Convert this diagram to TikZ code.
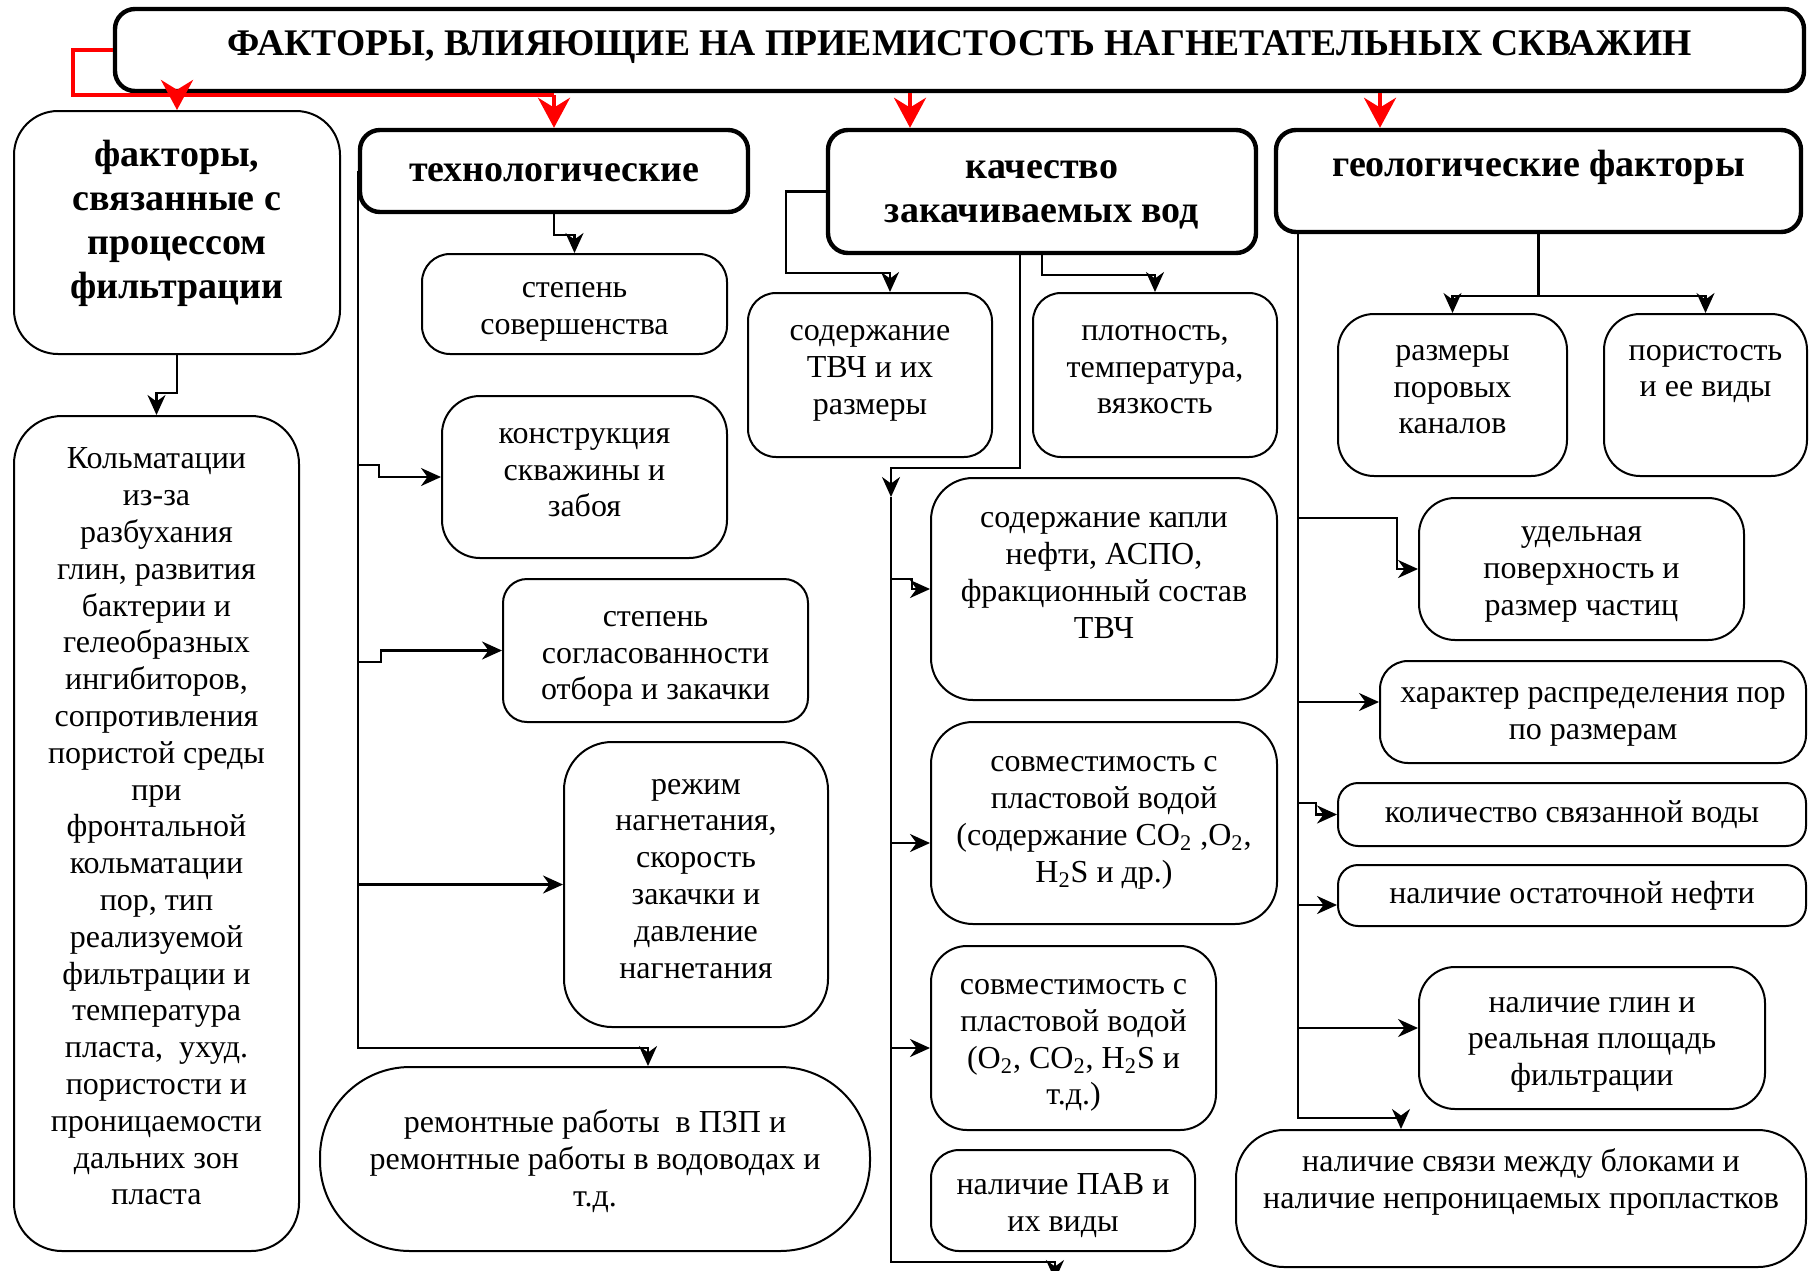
\documentclass[tikz,border=0pt]{standalone}
\usepackage{fontspec}
\setmainfont{Liberation Serif}
\usetikzlibrary{arrows.meta,calc,positioning}

\newcommand{\padb}[1]{\rule[-#1]{0pt}{0pt}}
\newcommand{\padt}[1]{\rule{0pt}{#1}}

\begin{document}
\begin{tikzpicture}[x=0.5pt,y=-0.5pt,
    box/.style={draw, line width=1pt, rounded corners=14pt, align=center, inner sep=0pt,
                font=\fontsize{16pt}{18.4pt}\selectfont},
    head/.style={box, line width=2.2pt, rounded corners=10pt,
                 font=\fontsize{19pt}{22pt}\selectfont\bfseries},
    arr/.style={line width=1.2pt, -{Stealth[length=10pt,width=9pt]}},
    redarr/.style={red, line width=2pt, -{Stealth[length=15pt,width=16pt]}},
    redline/.style={red, line width=2pt}]
  \useasboundingbox (0,0) rectangle (1809,1270);

    \node[head, minimum width=844.5pt, minimum height=41pt, font=\fontsize{18.8pt}{22pt}\selectfont\bfseries] (title) at (959.5,50)
        {ФАКТОРЫ, ВЛИЯЮЩИЕ НА ПРИЕМИСТОСТЬ НАГНЕТАТЕЛЬНЫХ СКВАЖИН\padb{6.5pt}};

    % left column
    \node[box, rounded corners=22pt, font=\fontsize{19pt}{22pt}\selectfont\bfseries,
          minimum width=163pt, minimum height=121.5pt] (filtr) at (177,232.5)
        {факторы,\\связанные с\\процессом\\фильтрации\padb{13.5pt}};
    \node[box, rounded corners=24pt, minimum width=142.5pt, minimum height=417.5pt] (kolm) at (156.5,833.5)
        {Кольматации\\из-за\\разбухания\\глин, развития\\бактерии и\\гелеобразных\\ингибиторов,\\сопротивления\\пористой среды\\при\\фронтальной\\кольматации\\пор, тип\\реализуемой\\фильтрации и\\температура\\пласта,\ \ ухуд.\\пористости и\\проницаемости\\дальних зон\\пласта\padb{7pt}};

    % technological
    \node[head, minimum width=194pt, minimum height=41pt] (tech) at (554,171)
        {\padt{10.4pt}технологические};
    \node[box, minimum width=152.5pt, minimum height=50pt] (sov) at (574.5,304)
        {\padt{15pt}степень\\совершенства};
    \node[box, rounded corners=19pt, minimum width=142.5pt, minimum height=81pt] (konstr) at (584.5,477)
        {конструкция\\скважины и\\забоя\padb{4.5pt}};
    \node[box, rounded corners=12pt, minimum width=152.5pt, minimum height=71.5pt] (soglas) at (655.5,650.5)
        {\padt{16pt}степень\\согласованности\\отбора и закачки};
    \node[box, rounded corners=24pt, minimum width=132pt, minimum height=142.5pt] (rezhim) at (696,884.5)
        {режим\\нагнетания,\\скорость\\закачки и\\давление\\нагнетания\padb{6pt}};
    \node[box, rounded corners=45pt, minimum width=275pt, minimum height=92pt] (remont) at (595,1159)
        {\padt{13.6pt}ремонтные работы\ \ в ПЗП и\\ремонтные работы в водоводах и\\т.д.};

    % injected water quality
    \node[head, minimum width=214pt, minimum height=61.5pt] (quality) at (1042,191.5)
        {\padt{12.2pt}качество\\закачиваемых вод};
    \node[box, minimum width=122pt, minimum height=82pt] (tvch) at (870,375)
        {содержание\\ТВЧ и их\\размеры\padb{5pt}};
    \node[box, minimum width=122pt, minimum height=82pt] (plot) at (1155,375)
        {плотность,\\температура,\\вязкость\padb{5.5pt}};
    \node[box, rounded corners=21pt, minimum width=173pt, minimum height=111pt] (kapli) at (1104,589)
        {содержание капли\\нефти, АСПО,\\фракционный состав\\ТВЧ\padb{13.7pt}};
    \node[box, rounded corners=21pt, minimum width=173pt, minimum height=101pt] (sovm1) at (1104,823)
        {совместимость с\\пластовой водой\\(содержание CO\textsubscript{2} ,O\textsubscript{2},\\H\textsubscript{2}S и др.)\padb{3.5pt}};
    \node[box, rounded corners=18pt, minimum width=142.5pt, minimum height=92pt] (sovm2) at (1073.5,1038)
        {\padt{15pt}совместимость с\\пластовой водой\\(O\textsubscript{2}, CO\textsubscript{2}, H\textsubscript{2}S и\\т.д.)};
    \node[box, minimum width=132pt, minimum height=50.5pt] (pav) at (1063,1200.5)
        {\padt{15.2pt}наличие ПАВ и\\их виды};

    % geological
    \node[head, minimum width=262.5pt, minimum height=51pt] (geo) at (1538.5,181)
        {геологические факторы\padb{17.7pt}};
    \node[box, rounded corners=18pt, minimum width=114.5pt, minimum height=81pt] (razm) at (1452.5,395)
        {размеры\\поровых\\каналов\padb{5.5pt}};
    \node[box, rounded corners=18pt, minimum width=101.5pt, minimum height=81pt] (poris) at (1705.5,395)
        {пористость\\и ее виды\padb{24pt}};
    \node[box, rounded corners=18pt, minimum width=162.5pt, minimum height=71pt] (udel) at (1581.5,569)
        {\padt{12.6pt}удельная\\поверхность и\\размер частиц};
    \node[box, minimum width=213pt, minimum height=51pt] (harakt) at (1593,712)
        {\padt{12pt}характер распределения пор\\по размерам};
    \node[box, rounded corners=10pt, minimum width=234pt, minimum height=31.5pt] (kolvo) at (1572,814.5)
        {количество связанной воды\padb{3pt}};
    \node[box, rounded corners=10pt, minimum width=234pt, minimum height=30.5pt] (ostat) at (1572,895.5)
        {наличие остаточной нефти};
    \node[box, rounded corners=18pt, minimum width=173pt, minimum height=71pt] (glin) at (1592,1038)
        {\padt{14.3pt}наличие глин и\\реальная площадь\\фильтрации};
    \node[box, rounded corners=24pt, minimum width=285pt, minimum height=68.5pt] (svyaz) at (1521,1198.5)
        {наличие связи между блоками и\\наличие непроницаемых пропластков\padb{20pt}};

    % red arrows from the title
    \coordinate (rk)  at (73,95);
    \coordinate (qin) at ($(quality.north)+(-132,0)$);
    \coordinate (gin) at ($(geo.north)+(-158.5,0)$);
    \draw[redline] (title.west) -| (rk) -- (rk -| tech.north);
    \draw[redarr] (rk -| filtr.north) -- (filtr.north);
    \draw[redarr] (rk -| tech.north) -- (tech.north);
    \draw[redarr] (qin |- title.south) -- (qin);
    \draw[redarr] (gin |- title.south) -- (gin);

    \draw[arr] (filtr.south) -- ++(0,38) -| (kolm.north);

    \draw[arr] (tech.south) -- ++(0,21) -| (sov.north);
    \draw[arr] (tech.west) -- (tech.west |- 0,1048) -| ($(remont.north)+(53,0)$);
    \draw[arr] (tech.west |- 0,465) -- ++(21,0) |- (konstr.west);
    \draw[arr] (tech.west |- 0,662) -- ++(23,0) |- (soglas.west);
    \draw[arr] (tech.west |- rezhim.west) -- (rezhim.west);

    \coordinate (qbus) at (891,497);
    \coordinate (qend) at (1055,1280);
    \draw[arr] (quality.west) -- ++(-40,0) -- ++(0,81.5) -| ($(tvch.north)+(20,0)$);
    \draw[arr] (quality.south) -- ++(0,20) -| (plot.north);
    \draw[arr] ($(quality.south)+(-22,0)$) -- ++(0,213) -| (qbus);
    \draw[arr] (qbus) -- (qbus |- 0,1262) -| (qend);
    \draw[arr] (qbus |- 0,579) -- ++(21,0) |- (kapli.west);
    \draw[arr] (qbus |- 0,843) -- (sovm1.west |- 0,843);
    \draw[arr] (qbus |- 0,1048) -- (sovm2.west |- 0,1048);

    \coordinate (gbus) at ($(geo.south west)+(24,0)$);
    \draw[arr] (gbus) -- (gbus |- 0,1118) -| ($(svyaz.north)+(-120,0)$);
    \draw[arr] (geo.south) -- ++(0,62) -| (razm.north);
    \draw[arr] (geo.south) -- ++(0,62) -| (poris.north);
    \draw[arr] (gbus |- 0,518) -- ++(99,0) |- (udel.west);
    \draw[arr] (gbus |- 0,702) -- (harakt.west |- 0,702);
    \draw[arr] (gbus |- 0,803) -- ++(18,0) |- (kolvo.west);
    \draw[arr] (gbus |- 0,905) -- (ostat.west |- 0,905);
    \draw[arr] (gbus |- 0,1028) -- (glin.west |- 0,1028);
\end{tikzpicture}
\end{document}
